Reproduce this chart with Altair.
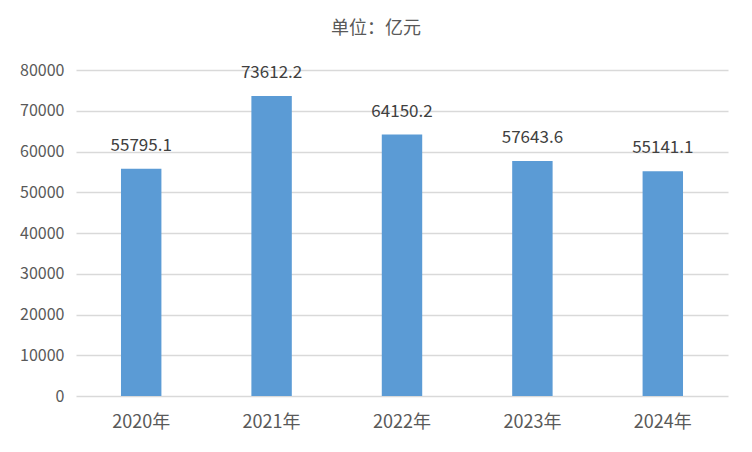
import altair as alt
import pandas as pd

years = ["2020年", "2021年", "2022年", "2023年", "2024年"]
values = [55795.1, 73612.2, 64150.2, 57643.6, 55141.1]
labels = ["55795.1", "73612.2", "64150.2", "57643.6", "55141.1"]

df = pd.DataFrame({"year": years, "value": values, "label": labels})

FONT = "Noto Sans CJK SC"

x = alt.X("year:N", sort=years, title=None,
          scale=alt.Scale(paddingInner=0.69, paddingOuter=0.345),
          axis=alt.Axis(labelAngle=0, labelFontSize=18, labelColor="#595959",
                        labelFont=FONT, labelPadding=17, ticks=False, domain=False,
                        grid=False))
y = alt.Y("value:Q", title=None,
          scale=alt.Scale(domain=[0, 80000]),
          axis=alt.Axis(values=list(range(0, 80001, 10000)), format="d",
                        labelFontSize=16,
                        labelColor="#595959", labelFont=FONT, labelPadding=12,
                        ticks=False, domain=False, gridColor="#d9d9d9",
                        gridWidth=1.5))

base = alt.Chart(df).encode(x=x, y=y)
bars = base.mark_bar(color="#5B9BD5")
text = base.mark_text(dy=-23, fontSize=17, color="#404040", font=FONT).encode(
    text="label:N")

chart = alt.layer(bars, text).properties(
    width=652, height=326,
    padding={"left": 68, "top": 62, "right": 8, "bottom": 40},
    autosize=alt.AutoSizeParams(type="none"),
    view=alt.ViewBackground(stroke="transparent", strokeWidth=0),
    title=alt.TitleParams("单位：亿元", fontSize=18, font=FONT, color="#595959",
                          fontWeight="normal", anchor="middle", dx=-26, offset=24),
).configure_view(stroke="transparent", strokeWidth=0).configure(background="white")

chart.save("out.html", embed_options={"renderer": "svg", "actions": False})
